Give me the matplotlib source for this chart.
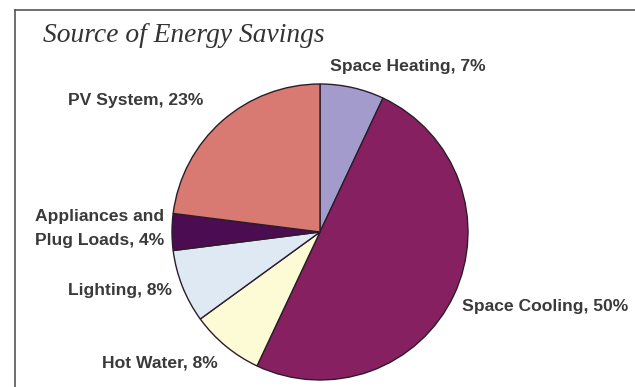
import matplotlib
matplotlib.use("Agg")
import matplotlib.pyplot as plt
from matplotlib.lines import Line2D

# data
categories = ["Space Heating", "Space Cooling", "Hot Water", "Lighting",
              "Appliances and\nPlug Loads", "PV System"]
shares = [7, 50, 8, 8, 4, 23]
colors = ["#a39bcb", "#862061", "#fdfbd6", "#dfe9f4", "#4c0c52", "#d97a72"]

# label anchors in pixels (x, y from top), alignment
label_pos = [(330, 67, "left"), (462, 306, "left"), (218, 363, "right"),
             (172, 290, "right"), (164, 228, "right"), (68, 100, "left")]

W, H = 635, 387
fig = plt.figure(figsize=(W / 100, H / 100), dpi=100)

# pie centre (320, 232) px, radius 148 px
cx, cy, r, half = 320, 232, 148, 150
ax = fig.add_axes([(cx - half) / W, (H - cy - half) / H, 2 * half / W, 2 * half / H])
ax.pie(shares, colors=colors, startangle=90, counterclock=False, radius=1,
       wedgeprops=dict(edgecolor="#2b1d2b", linewidth=1.0))
lim = half / r
ax.set_xlim(-lim, lim)
ax.set_ylim(-lim, lim)
ax.set_aspect("auto")
ax.axis("off")

for cat, val, (x, y, ha) in zip(categories, shares, label_pos):
    fig.text(x / W, 1 - y / H, f"{cat}, {val}%", ha=ha, va="center",
             multialignment="right", fontsize=12.6, fontweight="bold",
             color="#3a3a3a", family="Liberation Sans", linespacing=1.75)

fig.text(43 / W, 1 - 36 / H, "Source of Energy Savings", ha="left", va="center",
         fontsize=19.8, style="italic", family="Liberation Serif", color="#333333")

# frame lines (top and left)
fig.add_artist(Line2D([15 / W, 1], [1 - 9.5 / H, 1 - 9.5 / H], color="#555555", lw=1.2))
fig.add_artist(Line2D([15 / W, 15 / W], [1 - 9.5 / H, 0], color="#555555", lw=1.2))

fig.savefig("out.png", dpi=100)
